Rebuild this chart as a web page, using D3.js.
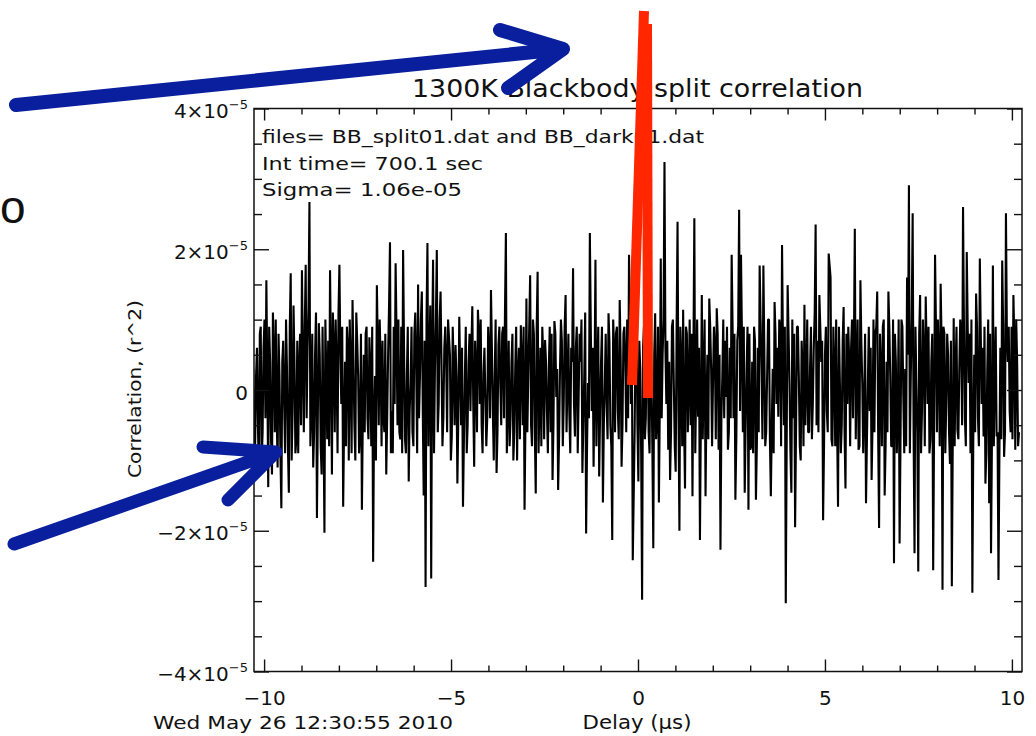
<!DOCTYPE html>
<html>
<head>
<meta charset="utf-8">
<script src="https://cdn.jsdelivr.net/npm/d3@7"></script>
<style>
    body { margin: 0; background: #fff; }
    svg { display: block; font-family: "DejaVu Sans", sans-serif; }
</style>
</head>
<body>
<svg id="chart" width="1036" height="736"></svg>
<script>
// correlation values in units of 1e-5, one block per ~5 us stretch
// (seg* = the spikes, mid* = the smaller swings sitting between them)
var segA = [0.3, -0.8, 0.6, -1.2, 0.9, -0.6, 1.0, 1.56, -1.38, 0.4,
    -1.2, 0.5, 1.0, -1.1, 0.2, -1.68, 0.7, -0.9, 0.3, -1.46,
    1.66, -0.3, 0.4, -0.7, -0.9, 0.8, 1.7, -0.6, 1.78, 0.6,
    2.67, -0.3, -1.1, 0.5, -1.82, 0.95, -0.8, 0.9, -2.03, 0.2,
    0.7, 1.7, -1.2, 0.6, 1.0, -0.9, 1.78, -0.2, -1.66, 0.4,
    0.9, -1.0, 0.3, 1.28, -0.5, 1.1, 0.2, -0.6, -1.7, 0.5,
    0.8, -0.4, 0.75, -0.8, -2.44, 0.2, 1.49, -0.5, 0.4, 0.7,
    -0.6, -1.2, 0.5, 2.1, -0.3, 0.9, 1.8, -0.5, -0.6, 0.9,
    1.99, -0.7, 0.2, -1.3, 0.1, -0.6, 0.8, 0.3, 1.5, 0.2,
    1.4, -1.5, -2.8, 2.09, 0.4, -2.68, 1.85, 0.3, 1.99, -0.2,
    1.4, -0.8, 0.6, 0.4, 1.0];
var midA = [-0.9, 0.2, -0.5, 0.8, -1.0, 0.6, -0.4, 0.2, 0.9, -0.7,
    1.1, -0.6, -0.3, 0.8, -0.9, 0.4, -0.2, 1.0, -0.8, 0.9,
    -1.0, 1.2, -0.9, 0.7, 0.3, -0.5, 0.4, 0.9, -0.4, 1.2,
    -0.8, 0.8, -0.6, 1.1, -0.3, 0.5, -1.2, -0.4, 1.0, -0.7,
    -0.8, 0.4, 1.1, -0.6, 0.3, 1.1, 0.5, 0.9, -0.5, -0.8,
    0.6, 1.0, -0.9, 0.4, -1.0, 0.7, -0.9, 0.8, -0.4, -0.6,
    0.9, -0.7, 0.3, 0.9, -0.4, -1.0, 0.6, 1.0, -0.8, -0.4,
    0.8, -0.4, 1.2, -0.9, -0.9, -0.2, 0.8, 1.0, -0.7, -0.9,
    0.6, -0.9, 0.9, -0.3, 0.9, -0.8, 1.1, -0.9, -0.4, 1.0,
    -0.3, 0.7, 1.0, -0.8, 1.2, 0.6, -0.9, 1.0, -0.6, 1.0,
    0.4, -0.4, 0.9, -0.6];
var segB = [0.5, -0.66, 0.3, 0.64, -1.33, 1.04, -0.5, -1.66, 0.2, -0.9,
    0.4, -0.3, 1.19, -1.09, 0.3, 1.14, -0.2, -0.5, 0.24, -0.1,
    -0.4, 0.5, 1.42, -0.3, 0.2, -1.18, 0.64, 0.1, 0.8, -0.4,
    2.23, -0.2, -0.8, 0.4, -1.0, 0.3, -1.0, 0.6, 0.92, -0.5,
    -1.7, 1.3, 0.2, 1.63, -0.8, 0.8, -1.47, 1.68, -0.2, -0.8,
    0.5, 0.71, -0.3, 0.3, -0.6, -1.28, 0.98, -0.1, -1.42, 0.3,
    0.7, -0.2, 1.35, 0.1, -0.33, 0.6, 1.73, -0.66, 0.9, -0.1,
    0.4, -1.18, 0.2, -2.04, 0.1, 2.23, -0.3, -1.09, 1.85, 0.2,
    -1.23, 0.4, -1.6, 0.1, -0.2, 1.09, -0.5, -2.13, 0.6, 0.8,
    -0.3, 1.28, -1.09, 0.8, 0.4, 1.0, 1.92, -0.2, -2.42];
var midB = [-1.0, 0.9, -0.5, 0.2, -0.4, 0.3, 0.6, -0.7, 0.9, -0.5,
    0.8, 0.6, -0.2, 0.7, -0.6, 0.8, 1.0, -0.9, 0.6, -0.8,
    0.9, -0.4, 0.6, -1.0, 1.0, -0.6, 0.9, -0.5, 0.9, 1.1,
    -0.9, 0.7, -0.4, 0.8, -0.6, 0.9, 0.2, -0.7, 0.4, 0.9,
    -0.4, -0.6, 0.9, -0.5, 1.0, -0.6, 0.9, -0.9, 0.6, 0.9,
    -0.7, 0.4, -0.9, 0.9, 0.8, -0.5, 0.8, 0.3, -0.7, 1.0,
    -0.8, 0.9, -0.6, 0.8, -0.9, 0.4, -0.2, 0.6, -0.9, 0.8,
    1.0, -0.5, 1.1, -0.8, -0.4, 0.9, 0.6, 0.1, -0.8, 0.9,
    -0.3, 0.9, -0.5, 0.8, -0.7, 0.7, -0.8, 1.0, -0.6, 0.9,
    -0.7, 0.5, -0.5, 0.9, -0.6, -0.4, 1.0, 0.8];
var segC = [-0.6, 1.0, -1.3, 0.3, -2.98, 0.9, -0.4, 0.6, -0.9, 0.2,
    -2.25, 1.09, -0.4, -1.6, 1.87, 0.5, 3.24, -0.2, -0.85, -1.28,
    0.9, 0.1, -1.16, 2.39, -2.0, 0.4, 1.14, -1.4, 0.8, 0.1,
    -0.5, -1.51, 2.44, 0.1, -0.38, -2.13, 1.35, 0.2, -1.51, 0.5,
    1.3, 0.3, 0.1, 0.6, 1.16, -0.85, -2.27, 0.2, -0.4, -0.1,
    -0.85, 0.6, 1.92, -0.4, -1.56, 0.7, 2.56, 1.92, -0.6, -1.46,
    0.3, -1.7, -0.85, 0.4, 0.9, -1.56, 0.6, 1.77, 0.3, 1.77,
    -0.8, 0.2, 1.0, -1.51, 0.3, 1.25, -0.2, -0.38, 0.9, 2.06,
    -0.5, -3.03, 1.49, 0.1, -1.46, -0.4, -1.95, 0.9, 0.2, -1.0,
    0.3, 1.21, 0.1, -0.6, 0.3, -0.7, 0.6, 2.35, 0.7, 1.35,
    0.4, -1.85, 0.5, -0.3, 1.94];
var midC = [0.8, -0.5, 0.7, -0.9, 0.6, -0.7, 1.0, -0.6, 0.9, -0.8,
    0.5, -0.7, 0.9, -0.2, -0.4, 1.0, 0.6, 0.7, 0.4, -0.6,
    1.0, -0.8, 0.9, -0.3, 0.9, -0.8, -0.5, 0.9, -0.6, 1.0,
    0.8, 0.5, -0.9, 1.0, 0.6, -0.4, -0.7, 1.0, -0.2, -0.7,
    0.9, -0.8, 0.9, -0.7, 0.8, 0.5, -0.4, 1.0, 0.7, 0.9,
    -0.6, -0.4, 0.9, 0.8, -0.7, 0.9, -0.3, 0.8, 0.9, -0.5,
    0.9, 0.8, -0.8, -0.9, 0.7, -0.8, -0.6, 1.0, -0.7, 0.6,
    -0.6, 1.0, -0.7, -0.5, -0.9, 0.8, 0.6, 1.0, -0.8, 0.6,
    0.9, -0.7, 0.8, -0.9, 1.0, 0.8, -0.6, 0.9, -0.8, 0.7,
    -0.8, -0.5, 1.0, -0.6, 0.9, -0.2, 1.1, -0.5, -0.6, 0.9,
    0.7, -0.8, 0.9, -0.6];
var segD = [1.6, -0.8, 0.3, 1.0, -1.66, 0.1, -0.5, 1.18, -1.4, -0.2,
    0.4, 0.6, -0.4, 2.29, 0.2, -0.85, 1.56, 0.1, -0.2, -1.61,
    0.1, -0.3, -1.28, 1.0, 0.8, 1.4, -1.96, 0.3, 0.9, -1.5,
    0.4, 1.4, 0.2, -0.8, -2.46, 0.4, -0.3, -2.18, 1.0, -0.1,
    0.3, 1.6, 2.91, 0.2, 2.51, -2.32, 0.1, -2.58, 1.35, -0.3,
    0.5, 1.33, -0.2, -0.9, 0.4, -2.56, 1.92, -0.6, 0.5, 1.51,
    -2.84, 0.8, -0.2, 0.5, -1.05, -2.79, 1.02, 0.3, -0.57, 0.3,
    0.75, 2.6, -0.4, 1.96, 0.1, -0.9, -2.88, 0.5, 1.37, -0.4,
    1.87, -0.2, -0.66, -1.33, 0.3, -1.61, -2.32, 1.77, 0.2, -0.66,
    -2.7, 0.6, 1.84, -0.95, 2.51, 0.4, -0.3, 0.9, 1.35, -0.85,
    0.4, -0.6];
var midD = [-0.7, 0.9, -0.8, -0.5, 0.9, -0.9, 0.7, -0.6, 0.8, 0.9,
    -0.8, 1.0, 0.6, -0.7, 1.0, -0.8, 0.7, -0.9, 0.8, -0.7,
    0.9, 0.6, -0.5, -0.6, 0.9, -0.6, 0.8, -0.8, 1.0, -0.8,
    -0.6, 0.9, -0.8, 1.0, 0.8, -0.9, 1.0, -0.7, 0.9, -0.9,
    -0.8, 0.5, -0.9, 1.0, -0.6, 0.9, -0.6, 0.8, -0.9, 1.0,
    -0.8, 0.6, 0.9, -0.7, 0.8, -0.5, 0.9, 1.0, -0.8, 0.7,
    0.9, -0.9, 0.8, -0.6, 0.7, -0.7, -0.8, 0.9, -0.7, 1.0,
    -0.5, 0.9, -0.8, 0.9, 0.8, 1.0, -0.7, -0.6, 0.9, -0.8,
    0.8, 0.6, 0.9, -0.9, 1.0, 0.8, -0.7, -0.8, 0.9, -0.6,
    -0.9, -0.7, 0.9, -0.6, 0.8, 0.9, -0.6, -0.7, 0.7, 1.0,
    -0.8];
// delay range (us) covered by each block
var segSpans = [[-10.29, -5.08], [-5.03, -0.14], [-0.09, 5.10], [5.15, 10.19]];
var unit = 1e-5;

var xMajor = [-10, -5, 0, 5, 10];
var xMinor = [-9, -8, -7, -6, -4, -3, -2, -1, 1, 2, 3, 4, 6, 7, 8, 9];
var yMajor = [-4, -2, 0, 2, 4];
var yMinor = [-3.5, -3, -2.5, -1.5, -1, -0.5, 0.5, 1, 1.5, 2.5, 3, 3.5];

var titleText = '1300K Blackbody split correlation';
var infoLines = ['files= BB_split01.dat and BB_dark01.dat', 'Int time= 700.1 sec', 'Sigma= 1.06e-05'];
var xTitle = 'Delay (\u03bcs)';
var yTitle = 'Correlation, (r^2)';
var stampText = 'Wed May 26 12:30:55 2010';

var svg = d3.select('#chart');
// plot box (pixels)
var pLeft = 254, pRight = 1022, pTop = 108.5, pBottom = 671.5;

var x = d3.scaleLinear().domain([-10.27, 10.27]).range([pLeft, pRight]);
var y = d3.scaleLinear().domain([-4 * unit, 4 * unit]).range([pBottom, pTop]);

// build trace points: spike readings with the in-between readings slotted in
var points = [];
[[segA, midA], [segB, midB], [segC, midC], [segD, midD]].forEach(function (pair, k) {
    var seq = [];
    pair[0].forEach(function (v, i) {
        seq.push(v);
        if (i < pair[0].length - 1 && pair[1][i] !== undefined) seq.push(pair[1][i]);
    });
    var d0 = segSpans[k][0], d1 = segSpans[k][1];
    seq.forEach(function (v, i) {
        points.push({delay: d0 + (d1 - d0) * i / (seq.length - 1), corr: v * unit});
    });
});

svg.append('clipPath').attr('id', 'plotClip')
    .append('rect').attr('x', pLeft).attr('y', pTop)
    .attr('width', pRight - pLeft).attr('height', pBottom - pTop);

var line = d3.line()
    .x(function (d) { return x(d.delay) })
    .y(function (d) { return y(d.corr) });

svg.append('path')
    .datum(points)
    .attr('clip-path', 'url(#plotClip)')
    .attr('d', line)
    .attr('fill', 'none')
    .attr('stroke', '#000')
    .attr('stroke-width', 2.1)
    .attr('stroke-linejoin', 'bevel');

// frame
svg.append('rect')
    .attr('x', pLeft).attr('y', pTop)
    .attr('width', pRight - pLeft).attr('height', pBottom - pTop)
    .attr('fill', 'none').attr('stroke', '#111').attr('stroke-width', 1.5);

// ticks on all four sides, pointing in
function ticks(axis, transform) {
    var g = svg.append('g').attr('transform', transform).call(axis);
    g.select('.domain').remove();
    g.selectAll('.tick line').attr('stroke', '#111').attr('stroke-width', 1.4);
    return g;
}

var yMajorVals = yMajor.map(function (v) { return v * unit });
var yMinorVals = yMinor.map(function (v) { return v * unit });

var xAxisG = ticks(d3.axisBottom(x).tickValues(xMajor).tickSize(-12).tickPadding(19)
    .tickFormat(function (d) { return d < 0 ? '\u2212' + Math.abs(d) : String(d) }),
    'translate(0,' + pBottom + ')');
xAxisG.selectAll('.tick text').attr('font-size', 20).attr('font-family', '"DejaVu Sans", sans-serif').attr('fill', '#111');
ticks(d3.axisBottom(x).tickValues(xMinor).tickSize(-6).tickFormat(''), 'translate(0,' + pBottom + ')');
ticks(d3.axisTop(x).tickValues(xMajor).tickSize(-12).tickFormat(''), 'translate(0,' + pTop + ')');
ticks(d3.axisTop(x).tickValues(xMinor).tickSize(-6).tickFormat(''), 'translate(0,' + pTop + ')');

var yAxisG = ticks(d3.axisLeft(y).tickValues(yMajorVals).tickSize(-15).tickPadding(6).tickFormat(''),
    'translate(' + pLeft + ',0)');
yAxisG.selectAll('.tick text')
    .attr('font-size', 20).attr('font-family', '"DejaVu Sans", sans-serif').attr('fill', '#111')
    .attr('dy', '0.45em')
    .each(function (d) {
        var t = d3.select(this);
        var m = Math.round(d / unit);
        if (m === 0) {
            t.text('0');
            return;
        }
        t.append('tspan').text((m < 0 ? '\u2212' : '') + Math.abs(m) + '\u00d710');
        t.append('tspan').attr('dy', -9).attr('font-size', 13).text('\u22125');
    });
ticks(d3.axisLeft(y).tickValues(yMinorVals).tickSize(-8).tickFormat(''), 'translate(' + pLeft + ',0)');
ticks(d3.axisRight(y).tickValues(yMajorVals).tickSize(-15).tickFormat(''), 'translate(' + pRight + ',0)');
ticks(d3.axisRight(y).tickValues(yMinorVals).tickSize(-8).tickFormat(''), 'translate(' + pRight + ',0)');

// texts
svg.append('text')
    .attr('x', 412).attr('y', 97)
    .attr('font-size', 24).attr('fill', '#111')
    .attr('textLength', 451).attr('lengthAdjust', 'spacingAndGlyphs')
    .text(titleText);

var infoLen = [442, 221, 200];
svg.selectAll('.info')
    .data(infoLines)
    .enter().append('text')
    .attr('class', 'info')
    .attr('x', 262)
    .attr('y', function (d, i) { return 143 + i * 26.5 })
    .attr('font-size', 18).attr('fill', '#111')
    .attr('textLength', function (d, i) { return infoLen[i] })
    .attr('lengthAdjust', 'spacingAndGlyphs')
    .text(function (d) { return d });

svg.append('text')
    .attr('x', (x(10) + x(-10)) / 2 - 1).attr('y', 729)
    .attr('text-anchor', 'middle')
    .attr('font-size', 19).attr('fill', '#111')
    .attr('textLength', 109).attr('lengthAdjust', 'spacingAndGlyphs')
    .text(xTitle);

svg.append('text')
    .attr('transform', 'translate(141,389) rotate(-90)')
    .attr('text-anchor', 'middle')
    .attr('font-size', 18).attr('fill', '#111')
    .attr('textLength', 178).attr('lengthAdjust', 'spacingAndGlyphs')
    .text(yTitle);

svg.append('text')
    .attr('x', 153).attr('y', 729)
    .attr('font-size', 18).attr('fill', '#111')
    .attr('textLength', 300).attr('lengthAdjust', 'spacingAndGlyphs')
    .text(stampText);

// slide overlay: cut-off letter, red marker bars, blue arrows
svg.append('text')
    .attr('x', 0).attr('y', 223)
    .attr('font-family', '"Liberation Sans", Arial, sans-serif')
    .attr('font-size', 46).attr('fill', '#111')
    .text('o');

var redBars = [[644, 11, 632, 385], [647, 24, 648, 398]];
svg.selectAll('.redbar')
    .data(redBars)
    .enter().append('line')
    .attr('class', 'redbar')
    .attr('x1', function (d) { return d[0] }).attr('y1', function (d) { return d[1] })
    .attr('x2', function (d) { return d[2] }).attr('y2', function (d) { return d[3] })
    .attr('stroke', '#ff2600').attr('stroke-width', 10);

// tail, tip, upper arm end, lower arm end
var arrows = [
    {tail: [16, 105], tip: [563, 49], a: [500, 30], b: [508, 88], w: 14},
    {tail: [14, 544], tip: [276, 452], a: [203, 447], b: [228, 500], w: 13}
];
svg.selectAll('.arrow')
    .data(arrows)
    .enter().append('path')
    .attr('class', 'arrow')
    .attr('d', function (d) {
        return 'M' + d.tail + 'L' + d.tip + 'M' + d.a + 'L' + d.tip + 'L' + d.b;
    })
    .attr('fill', 'none')
    .attr('stroke', '#0a1f9e')
    .attr('stroke-width', function (d) { return d.w })
    .attr('stroke-linecap', 'round')
    .attr('stroke-linejoin', 'round');
</script>
</body>
</html>
